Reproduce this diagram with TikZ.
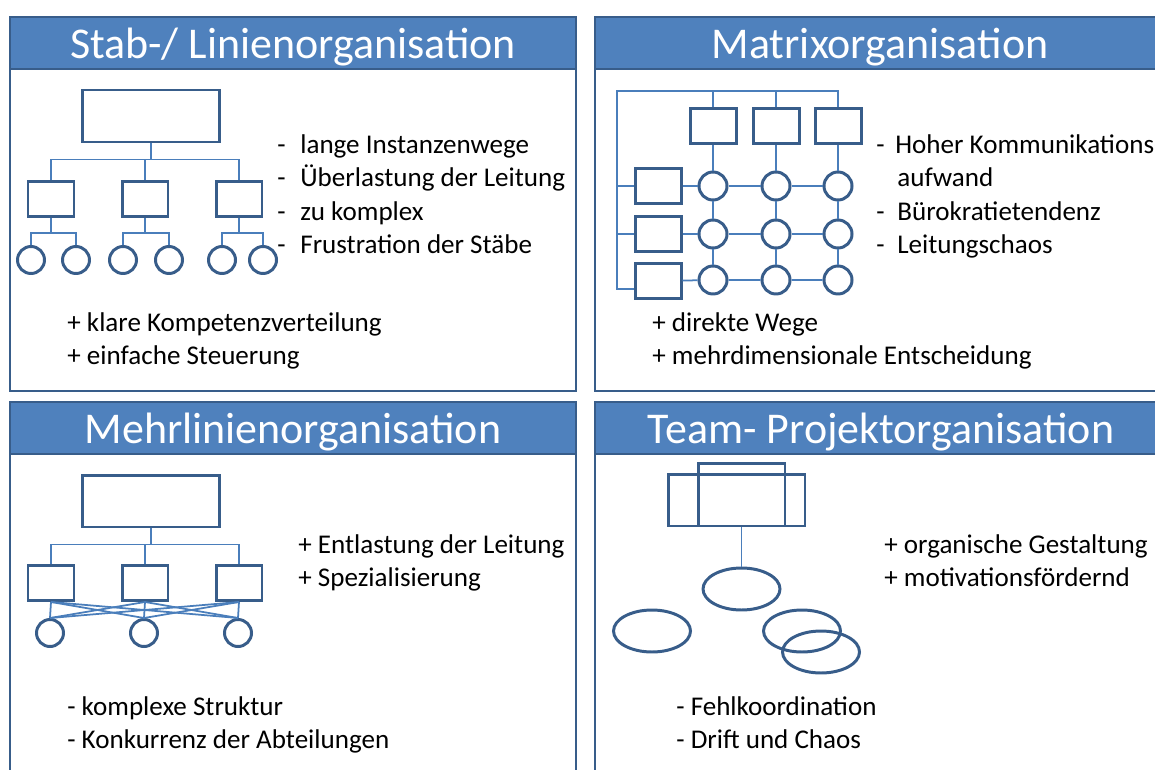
\documentclass[tikz,border=0pt]{standalone}
\usepackage{fontspec}
\setmainfont{Carlito}
\usetikzlibrary{positioning, calc, shapes.geometric}
\definecolor{hdrblue}{HTML}{4F81BD}
\definecolor{frameblue}{HTML}{385D8A}
\definecolor{lineblue}{HTML}{4A7EBB}

\begin{document}
\begin{tikzpicture}[x=0.02cm, y=-0.02cm,
    panel/.style={draw=frameblue, line width=1.6pt},
    header/.style={draw=frameblue, fill=hdrblue, line width=1.6pt},
    title/.style={anchor=base, text=white, inner sep=0pt, font=\fontsize{25}{28}\selectfont},
    box/.style={draw=frameblue, line width=1.7pt, fill=white, minimum width=0.92cm, minimum height=0.70cm, inner sep=0pt},
    bigbox/.style={box, minimum width=2.76cm, minimum height=1.04cm},
    unit/.style={circle, draw=frameblue, line width=1.7pt, fill=white, minimum size=0.54cm, inner sep=0pt},
    blob/.style={ellipse, draw=frameblue, line width=1.7pt, minimum width=1.54cm, minimum height=0.84cm, inner sep=0pt},
    link/.style={draw=lineblue, line width=1pt},
    txt/.style={anchor=base west, inner sep=0pt, font=\fontsize{15.4}{18}\selectfont}]
    \useasboundingbox (0,0) rectangle (1155,770);

    % panels and headers
    \draw[panel] (10,17) rectangle (576,391);
    \draw[panel] (595,17) rectangle (1165,391);
    \draw[panel] (10,402) rectangle (576,790);
    \draw[panel] (595,402) rectangle (1165,790);
    \draw[header] (10,17) rectangle (576,69);
    \draw[header] (595,17) rectangle (1165,69);
    \draw[header] (10,402) rectangle (576,454);
    \draw[header] (595,402) rectangle (1165,454);
    \node[title] (stab) at (293,59) {Stab-/ Linienorganisation};
    \node[title] (matrix) at (880,59) {Matrixorganisation};
    \node[title] (mehr) at (293,443) {Mehrlinienorganisation};
    \node[title] (team) at (881,443) {Team- Projektorganisation};

    % Stab-/ Linienorganisation
    \node[bigbox] (top1) at (151,116) {};
    \node[box] (a1) at (51,199) {};
    \node[box] (b1) at (145,199) {};
    \node[box] (c1) at (239,199) {};
    \foreach \x [count=\i] in {31,76,123,169,222,263}
        \node[unit] (l\i) at (\x,260) {};
    \foreach \b in {a1,b1,c1}
        \draw[link] (top1.south) -- ++(0,16) -| (\b.north);
    \draw[link] (a1.south) -- ++(0,15) -| (l1.north);
    \draw[link] (a1.south) -- ++(0,15) -| (l2.north);
    \draw[link] (b1.south) -- ++(0,15) -| (l3.north);
    \draw[link] (b1.south) -- ++(0,15) -| (l4.north);
    \draw[link] (c1.south) -- ++(0,15) -| (l5.north);
    \draw[link] (c1.south) -- ++(0,15) -| (l6.north);
    \foreach \t [count=\i] in {lange Instanzenwege, {\"Uberlastung der Leitung}, zu komplex, Frustration der St\"abe} {
        \node[txt] (d1\i) at (277,{154+33*(\i-1)}) {-};
        \node[txt] (s1\i) at (300,{154+33*(\i-1)}) {\t};
    }
    \node[txt] (p11) at (67,331) {+ klare Kompetenzverteilung};
    \node[txt] (p12) at (67,364) {+ einfache Steuerung};

    % Matrixorganisation
    \coordinate (mx) at (617,91);
    \foreach \x [count=\j] in {713,776,838} {
        \node[box] (k\j) at (\x,126) {};
        \foreach \y [count=\i] in {186,234,280}
            \node[unit, minimum size=0.56cm] (m\i\j) at (\x,\y) {};
    }
    \foreach \y [count=\i] in {186,234,281}
        \node[box] (r\i) at (658,\y) {};
    \draw[link] (k3.north) |- (mx) |- ([yshift=-4.5pt]r3.west);
    \draw[link] (k1.north) -- (k1.north |- mx);
    \draw[link] (k2.north) -- (k2.north |- mx);
    \draw[link] (mx |- r1.west) -- (r1.west);
    \draw[link] (mx |- r2.west) -- (r2.west);
    \foreach \i in {1,2,3} {
        \draw[link] (r\i) -- (m\i1) -- (m\i2) -- (m\i3);
        \draw[link] (k\i) -- (m1\i) -- (m2\i) -- (m3\i);
    }
    \node[txt] (d21) at (876,154) {-};
    \node[txt] (s21) at (895,154) {Hoher Kommunikations-};
    \node[txt] (s22) at (897,187) {aufwand};
    \node[txt] (d23) at (876,220) {-};
    \node[txt] (s23) at (897,220) {B\"urokratietendenz};
    \node[txt] (d24) at (876,253) {-};
    \node[txt] (s24) at (897,253) {Leitungschaos};
    \node[txt] (p21) at (652,331) {+ direkte Wege};
    \node[txt] (p22) at (652,364) {+ mehrdimensionale Entscheidung};

    % Mehrlinienorganisation
    \node[bigbox] (top3) at (151,501) {};
    \node[box] (a3) at (51,583) {};
    \node[box] (b3) at (145,583) {};
    \node[box] (c3) at (239,583) {};
    \foreach \x [count=\i] in {50,144,238}
        \node[unit] (u\i) at (\x,633) {};
    \foreach \b in {a3,b3,c3} {
        \draw[link] (top3.south) -- ++(0,16) -| (\b.north);
        \foreach \c in {u1,u2,u3}
            \draw[link] (\b.south) -- (\c.north);
    }
    \node[txt] (p31) at (298,553) {+ Entlastung der Leitung};
    \node[txt] (p32) at (298,586) {+ Spezialisierung};
    \node[txt] (n31) at (67,715) {- komplexe Struktur};
    \node[txt] (n32) at (67,748) {- Konkurrenz der Abteilungen};

    % Team- Projektorganisation
    \node[box, fill=none, minimum width=2.74cm, minimum height=1.04cm] (core) at (736.5,500) {};
    \node[box, fill=none, minimum width=1.74cm, minimum height=1.26cm] (lead) at (741.5,494.5) {};
    \node[blob] (e1) at (741.5,589) {};
    \node[blob] (e2) at (652,631) {};
    \node[blob] (e3) at (802,631) {};
    \node[blob] (e4) at (821,652) {};
    \draw[link] (lead.south) -- (e1.north);
    \node[txt] (p41) at (884,553) {+ organische Gestaltung};
    \node[txt] (p42) at (884,586) {+ motivationsf\"ordernd};
    \node[txt] (n41) at (676,715) {- Fehlkoordination};
    \node[txt] (n42) at (676,748) {- Drift und Chaos};
\end{tikzpicture}
\end{document}
